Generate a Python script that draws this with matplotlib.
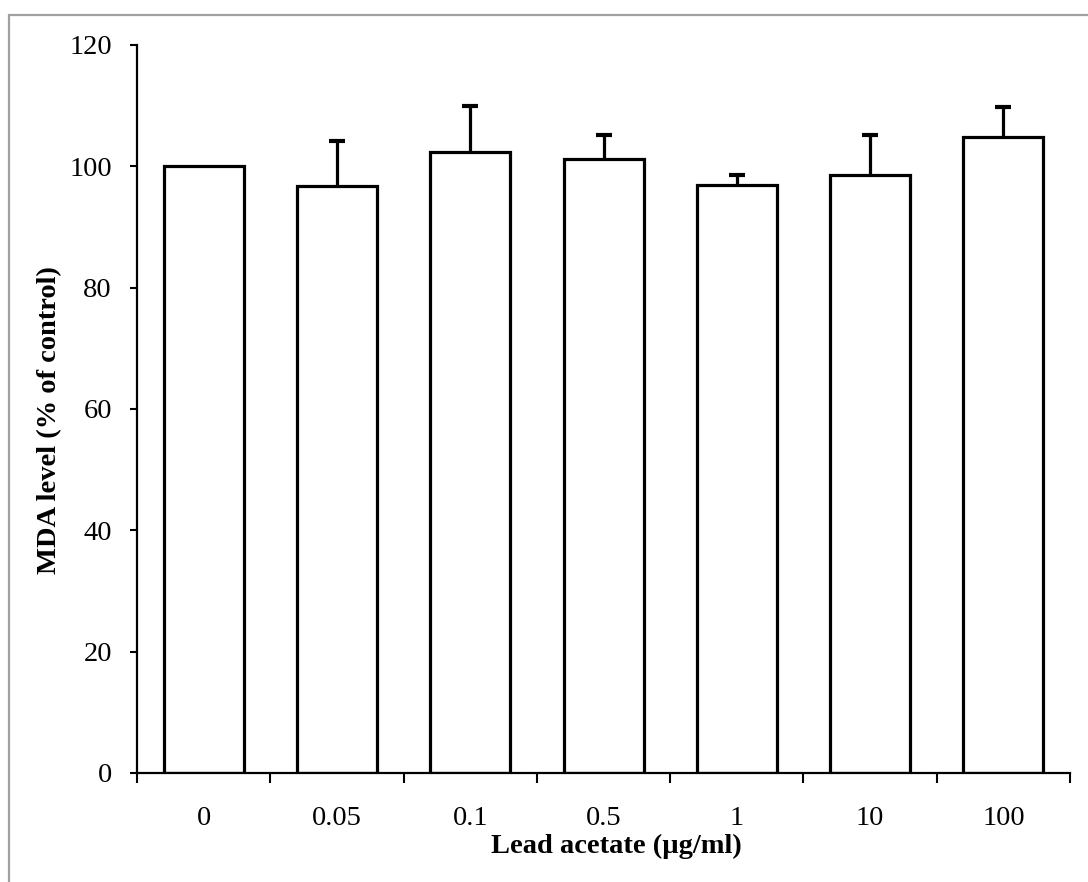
import matplotlib.pyplot as plt
import numpy as np
from matplotlib.patches import Rectangle

# Lead acetate dose groups and MDA response (% of untreated control)
doses = ["0", "0.05", "0.1", "0.5", "1", "10", "100"]
mda_mean = [100.0, 96.8, 102.4, 101.2, 97.0, 98.6, 104.9]
mda_sd = [0.0, 7.3, 7.6, 4.0, 1.5, 6.6, 4.9]

plt.rcParams["font.family"] = ["Liberation Serif", "DejaVu Serif"]

fig = plt.figure(figsize=(10.88, 8.82), dpi=100)
ax = fig.add_axes([0.1259, 0.1236, 0.8576, 0.8254])

# light grey frame around the figure (only top and left fall inside)
fig.patches.append(Rectangle((9 / 1088, -0.5), 1.5, 1.5 - 15 / 882,
                             transform=fig.transFigure, fill=False,
                             edgecolor="#a0a0a0", lw=1.6, zorder=0))

x = np.arange(len(doses))
mean = np.array(mda_mean)
sd = np.array(mda_sd)

ax.bar(x, mean, width=0.6, color="white", edgecolor="black",
       linewidth=2.3, zorder=2)

# upper error bars only; the control has no spread so it gets none
has_err = sd > 0
_, caps, _ = ax.errorbar(x[has_err], mean[has_err],
                         yerr=[np.zeros(has_err.sum()), sd[has_err]],
                         fmt="none", ecolor="black", elinewidth=2.3,
                         capsize=6, capthick=3, zorder=1)
caps[0].set_visible(False)

ax.set_xlim(-0.5, len(doses) - 0.5)
ax.set_ylim(0, 120)
ax.set_yticks(np.arange(0, 121, 20))

# ticks at category boundaries, labels centred under the bars
ax.set_xticks(np.arange(-0.5, len(doses), 1.0))
ax.set_xticklabels([])
ax.set_xticks(x, minor=True)
ax.set_xticklabels(doses, minor=True)
ax.tick_params(axis="x", which="major", direction="out", length=7, width=1.5)
ax.tick_params(axis="x", which="minor", length=0, pad=24, labelsize=20.5)
ax.tick_params(axis="y", direction="out", length=5, width=1.5, pad=13,
               labelsize=20.5)

for side in ("top", "right"):
    ax.spines[side].set_visible(False)
for side in ("left", "bottom"):
    ax.spines[side].set_linewidth(1.6)

ax.set_xlabel("Lead acetate (µg/ml)", fontsize=20.5, fontweight="bold")
ax.xaxis.set_label_coords(0.514, -0.083)
ax.set_ylabel("MDA level (% of control)", fontsize=20.5, fontweight="bold")
ax.yaxis.set_label_coords(-0.080, 0.485)

fig.savefig("out.png", dpi=100)
